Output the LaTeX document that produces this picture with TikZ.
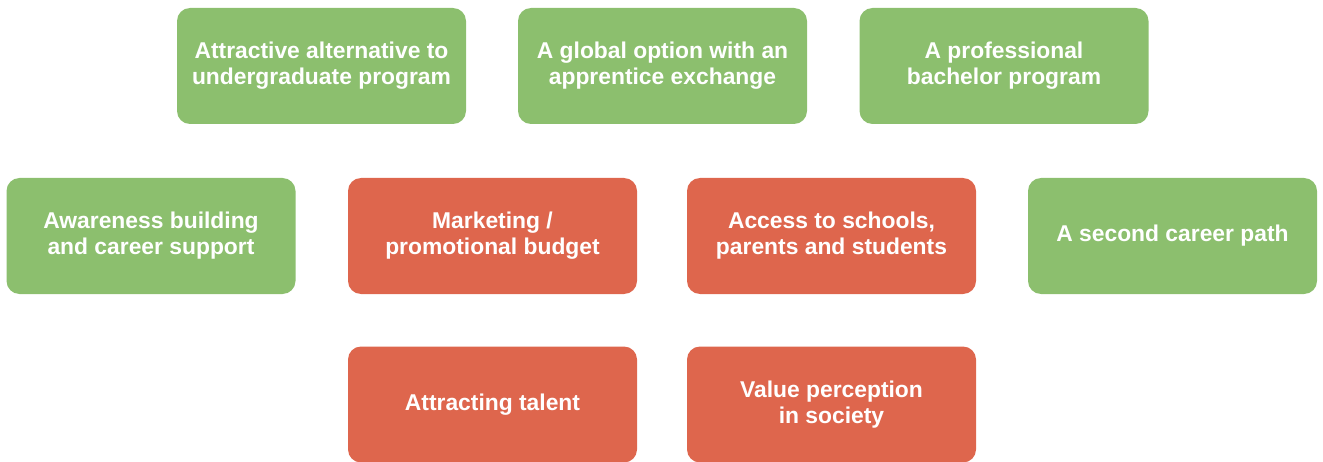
\documentclass[tikz,border=0pt]{standalone}
\usepackage{fontspec}
\setmainfont{Liberation Sans}
\usepackage{tikz}
\usepackage{xcolor}
\definecolor{boxgreen}{RGB}{140,191,110}
\definecolor{boxred}{RGB}{222,102,77}

\tikzset{
  tile/.style={rectangle,rounded corners=0.26cm,minimum width=5.78cm,minimum height=2.32cm,
    align=center,text=white,font=\fontsize{13}{14.8}\selectfont\bfseries,inner sep=0pt},
  goodtile/.style={tile,fill=boxgreen},
  badtile/.style={tile,fill=boxred}
}

\begin{document}
\begin{tikzpicture}
\useasboundingbox (0,0) rectangle (26.46,-9.24);
% top row
\node[goodtile] (alt) at (6.43,-1.32) {Attractive alternative to\\undergraduate program};
\node[goodtile] (glob) at (13.25,-1.32) {A global option with an\\apprentice exchange};
\node[goodtile] (bach) at (20.08,-1.32) {A professional\\bachelor program};
% middle row
\node[goodtile] (aware) at (3.02,-4.72) {Awareness building\\and career support};
\node[badtile] (mkt) at (9.85,-4.72) {Marketing /\\promotional budget};
\node[badtile] (acc) at (16.63,-4.72) {Access to schools,\\parents and students};
\node[goodtile] (second) at (23.45,-4.72) {A second career path};
% bottom row
\node[badtile] (talent) at (9.85,-8.09) {Attracting talent};
\node[badtile] (value) at (16.63,-8.09) {Value perception\\in society};
\end{tikzpicture}
\end{document}
